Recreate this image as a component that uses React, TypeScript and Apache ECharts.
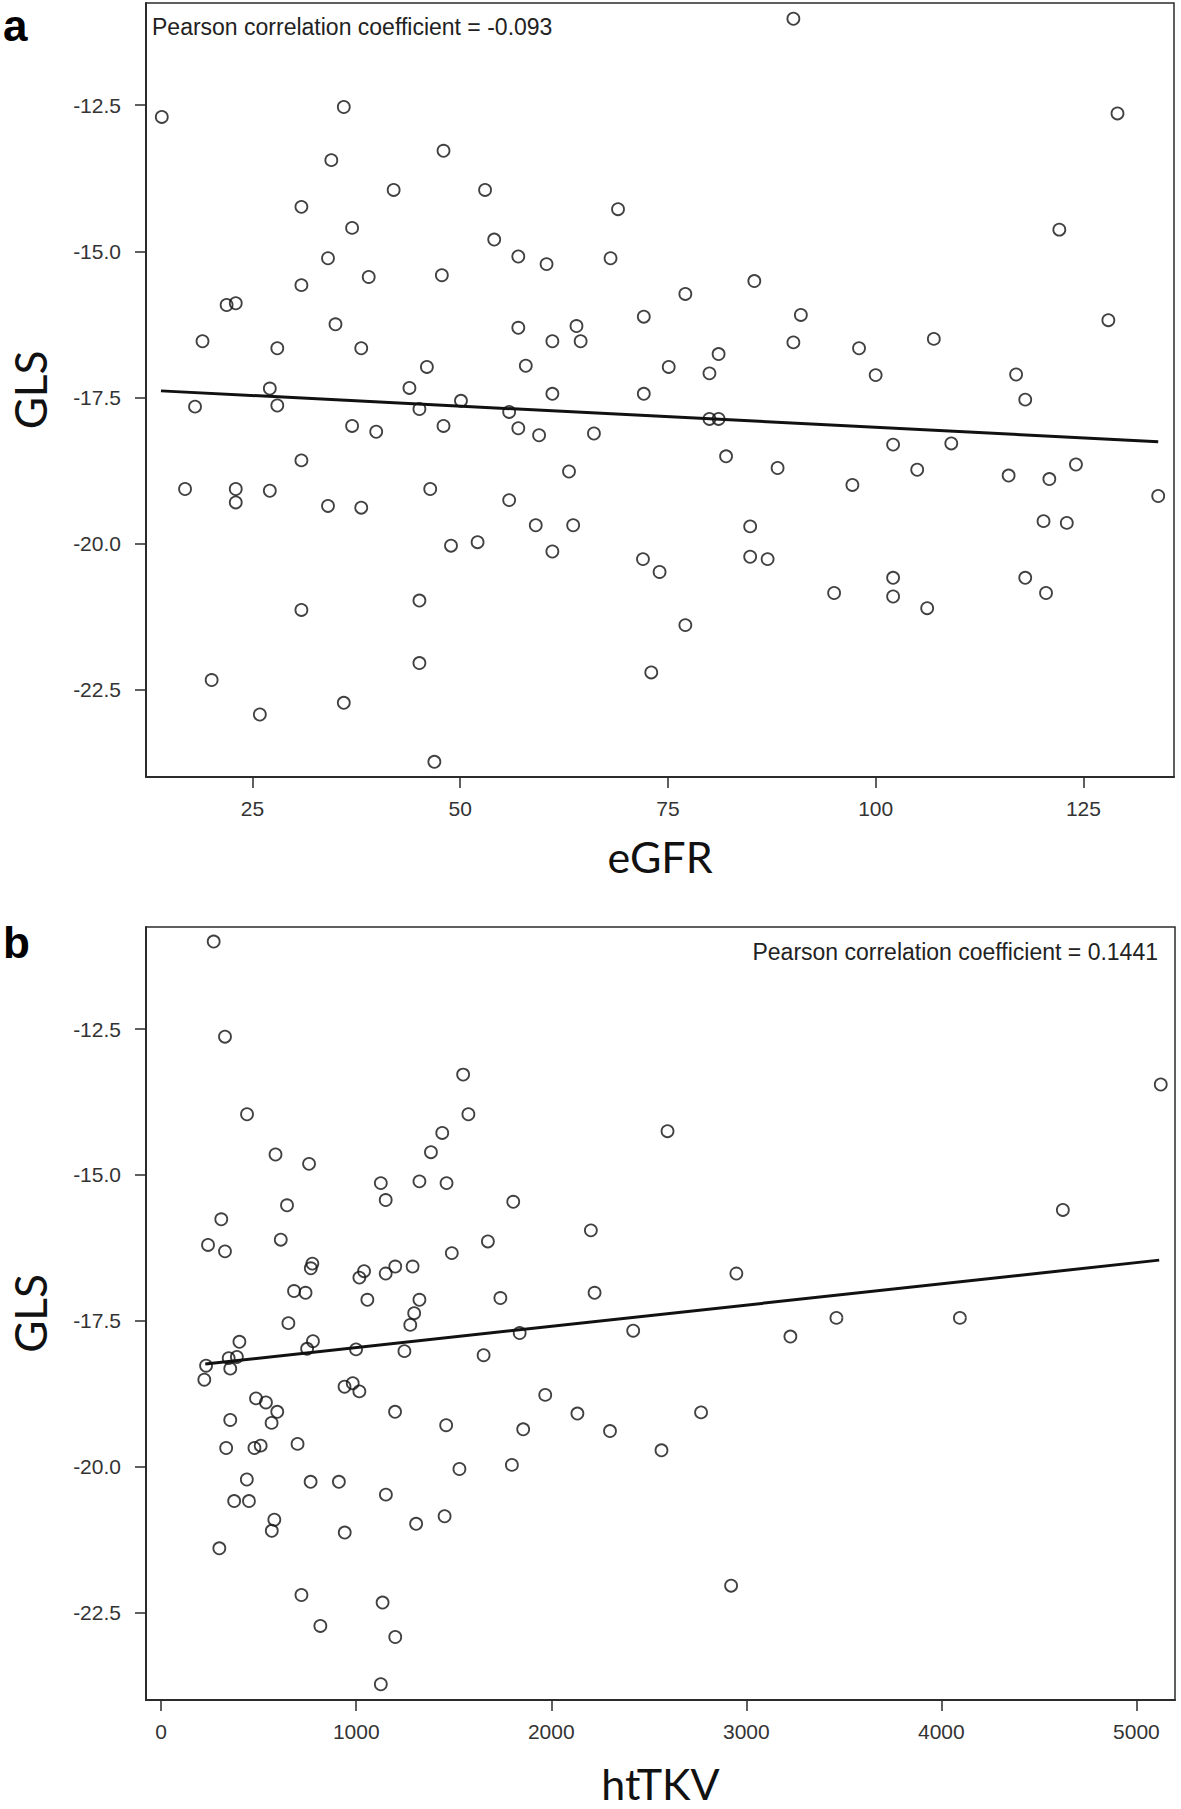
import React, { useEffect, useRef } from "react";
import * as echarts from "echarts";

// Panel a: eGFR vs GLS
const eGFR = [
  14.1, 36.0, 34.5, 48.0, 42.0, 53.0, 30.9, 37.0, 54.1, 34.1, 57.0, 60.4, 47.8, 39.0, 30.9, 21.9, 23.0, 35.0, 57.0, 64.0,
  19.0, 61.1, 64.5, 28.0, 38.1, 46.0, 57.9, 27.1, 43.9, 61.1, 18.1, 28.0, 50.1, 45.1, 55.9,
  90.1, 129.1, 69.0, 122.1, 68.1, 85.4, 77.1, 72.1, 91.0, 128.0, 90.1, 98.0, 107.0, 81.1, 75.1, 80.0, 100.0, 116.9, 72.1, 118.0, 80.0, 81.1,
  37.0, 39.9, 48.0, 57.0, 59.5, 66.1, 30.9, 63.1, 16.9, 23.0, 23.0, 27.1, 46.4, 34.1, 38.1, 55.9, 59.1, 63.6, 48.9, 52.1,
  61.1, 30.9, 45.1, 20.1, 45.1, 36.0, 25.9, 46.9,
  102.1, 109.1, 82.0, 88.2, 105.0, 124.1, 116.0, 120.9, 97.2, 134.0, 84.9, 120.2, 123.0, 72.0, 74.0, 84.9, 87.0, 102.1,
  102.1, 95.0, 106.2, 118.0, 120.5, 77.1, 73.0,
];
const glsA = [
  -12.7, -12.53, -13.44, -13.28, -13.95, -13.95, -14.24, -14.6, -14.8, -15.12, -15.09, -15.22, -15.41, -15.44, -15.58, -15.92, -15.89, -16.25, -16.31, -16.28,
  -16.54, -16.54, -16.54, -16.66, -16.66, -16.98, -16.96, -17.35, -17.34, -17.44, -17.66, -17.64, -17.56, -17.7, -17.75,
  -11.02, -12.64, -14.28, -14.63, -15.12, -15.51, -15.73, -16.12, -16.09, -16.18, -16.56, -16.66, -16.5, -16.76, -16.98, -17.09, -17.12, -17.11, -17.44, -17.54, -17.87, -17.87,
  -17.99, -18.09, -17.99, -18.03, -18.15, -18.12, -18.58, -18.77, -19.07, -19.07, -19.3, -19.1, -19.07, -19.36, -19.39, -19.26, -19.69, -19.69, -20.04, -19.98,
  -20.14, -21.14, -20.98, -22.34, -22.05, -22.73, -22.93, -23.74,
  -18.31, -18.29, -18.51, -18.71, -18.74, -18.65, -18.84, -18.9, -19.0, -19.19, -19.71, -19.62, -19.65, -20.27, -20.49, -20.23, -20.27, -20.59,
  -20.91, -20.85, -21.11, -20.59, -20.85, -21.4, -22.21,
];
// fitted line end points, panel a
const fitAx = [14, 134];
const fitAy = [-17.39, -18.26];

// Panel b: htTKV vs GLS
const htTKV = [
  269, 327, 1548, 440, 1575, 1441, 586, 1383, 758, 1126, 1324, 1463, 1151, 645, 1805, 308, 2203, 240, 327, 613,
  1675, 1490, 775, 767, 1040, 1016, 1151, 1200, 1289, 681, 740, 1057, 1324, 1739, 2222, 1297, 652,
  5125, 2596, 4623, 2949, 3462, 4095,
  1277, 230, 221, 346, 354, 388, 401, 748, 778, 999, 1247, 1838, 1653, 940, 982, 1016, 486, 537, 595, 566,
  354, 1199, 1969, 2134, 1461, 1856, 333, 478, 510, 699, 1529, 1798, 439, 766, 911, 1152, 374, 450, 580, 567,
  941, 1453, 1307, 298, 719, 1135, 816, 1200, 1126,
  2420, 3226, 2301, 2565, 2768, 2922,
];
const glsB = [
  -11.0, -12.63, -13.28, -13.96, -13.96, -14.28, -14.65, -14.61, -14.81, -15.14, -15.11, -15.14, -15.43, -15.52, -15.46, -15.76, -15.95, -16.2, -16.31, -16.11,
  -16.14, -16.34, -16.52, -16.6, -16.65, -16.76, -16.69, -16.57, -16.57, -16.99, -17.02, -17.14, -17.14, -17.11, -17.02, -17.37, -17.54,
  -13.45, -14.25, -15.6, -16.69, -17.45, -17.45,
  -17.57, -18.27, -18.51, -18.14, -18.32, -18.12, -17.86, -17.98, -17.85, -17.99, -18.02, -17.71, -18.09, -18.63, -18.57, -18.71, -18.83, -18.9, -19.06, -19.25,
  -19.2, -19.06, -18.77, -19.09, -19.29, -19.36, -19.68, -19.68, -19.64, -19.61, -20.04, -19.97, -20.22, -20.26, -20.26, -20.48, -20.59, -20.59, -20.91, -21.1,
  -21.13, -20.85, -20.98, -21.4, -22.2, -22.33, -22.73, -22.92, -23.73,
  -17.67, -17.77, -19.39, -19.72, -19.07, -22.04,
];
const fitBx = [226, 5117];
const fitBy = [-18.24, -16.46];

const xTicksA = [25, 50, 75, 100, 125];
const xTicksB = [0, 1000, 2000, 3000, 4000, 5000];
const yTicks = [-22.5, -20.0, -17.5, -15.0, -12.5];

const pearsonA = "Pearson correlation coefficient = -0.093";
const pearsonB = "Pearson correlation coefficient = 0.1441";

const AX = "#2b2b2b";
const TICK_FONT = "Liberation Sans";
const NAME_FONT = "Lato";

function xAxisCfg(grid: number, min: number, max: number, ticks: number[], name: string, gap: number) {
  return {
    gridIndex: grid,
    type: "value",
    min,
    max,
    name,
    nameLocation: "middle",
    nameGap: gap,
    nameTextStyle: { fontSize: 43, fontFamily: NAME_FONT, color: "#111" },
    axisLine: { show: true, onZero: false, lineStyle: { color: AX, width: 2 } },
    axisTick: { show: true, length: 11, customValues: ticks, lineStyle: { color: AX, width: 1.5 } },
    axisLabel: {
      customValues: ticks,
      margin: 21,
      fontSize: 21,
      fontFamily: TICK_FONT,
      color: "#333",
      formatter: (v: number) => String(v),
    },
    splitLine: { show: false },
  };
}

function yAxisCfg(grid: number) {
  return {
    gridIndex: grid,
    type: "value",
    min: -24.0,
    max: -10.75,
    name: "GLS",
    nameLocation: "middle",
    nameRotate: 90,
    nameGap: 94,
    nameTextStyle: { fontSize: 44, fontFamily: NAME_FONT, color: "#111" },
    axisLine: { show: true, onZero: false, lineStyle: { color: AX, width: 2 } },
    axisTick: { show: true, length: 11, customValues: yTicks, lineStyle: { color: AX, width: 1.5 } },
    axisLabel: {
      customValues: yTicks,
      margin: 25,
      fontSize: 21,
      fontFamily: TICK_FONT,
      color: "#333",
      formatter: (v: number) => v.toFixed(1),
    },
    splitLine: { show: false },
  };
}

const marker = {
  type: "scatter",
  symbol: "circle",
  symbolSize: 12,
  itemStyle: { color: "rgba(255,255,255,0)", borderColor: "#111", borderWidth: 1.8 },
};

export default function App() {
  const ref = useRef<HTMLDivElement>(null);
  useEffect(() => {
    if (!ref.current) return;
    const chart = echarts.init(ref.current, null, { renderer: "svg" });
    const option = {
      animation: false,
      backgroundColor: "#fff",
      grid: [
        { left: 137, top: 3, width: 1037, height: 774, show: true, borderColor: AX, borderWidth: 1.5, backgroundColor: "rgba(0,0,0,0)" },
        { left: 138.5, top: 927, width: 1036.5, height: 773, show: true, borderColor: AX, borderWidth: 1.5, backgroundColor: "rgba(0,0,0,0)" },
      ],
      xAxis: [
        xAxisCfg(0, 12.2, 135.9, xTicksA, "eGFR", 58),
        xAxisCfg(1, -78, 5198, xTicksB, "htTKV", 62),
      ],
      yAxis: [yAxisCfg(0), yAxisCfg(1)],
      series: [
        { ...marker, name: "a", xAxisIndex: 0, yAxisIndex: 0, data: eGFR.map((x, i) => [x, glsA[i]]) },
        {
          type: "line", xAxisIndex: 0, yAxisIndex: 0, symbol: "none",
          lineStyle: { color: "#111", width: 3 },
          data: fitAx.map((x, i) => [x, fitAy[i]]),
        },
        { ...marker, name: "b", xAxisIndex: 1, yAxisIndex: 1, data: htTKV.map((x, i) => [x, glsB[i]]) },
        {
          type: "line", xAxisIndex: 1, yAxisIndex: 1, symbol: "none",
          lineStyle: { color: "#111", width: 3 },
          data: fitBx.map((x, i) => [x, fitBy[i]]),
        },
      ],
      graphic: [
        { type: "text", x: 3, y: 3, style: { text: "a", fontSize: 44, fontWeight: "bold", fontFamily: "Liberation Sans", fill: "#000", verticalAlign: "top" } },
        { type: "text", x: 3, y: 920, style: { text: "b", fontSize: 44, fontWeight: "bold", fontFamily: "Liberation Sans", fill: "#000", verticalAlign: "top" } },
        { type: "text", x: 152, y: 15, style: { text: pearsonA, fontSize: 23, fontFamily: TICK_FONT, fill: "#222", verticalAlign: "top" } },
        { type: "text", x: 1158, y: 940, style: { text: pearsonB, fontSize: 23, fontFamily: TICK_FONT, fill: "#222", align: "right", verticalAlign: "top" } },
      ],
    };
    chart.setOption(option as any);
    return () => chart.dispose();
  }, []);
  return (
    <div
      ref={ref}
      style={{ position: "absolute", left: 0, top: 0, width: 1181, height: 1809, background: "#fff" }}
    />
  );
}
